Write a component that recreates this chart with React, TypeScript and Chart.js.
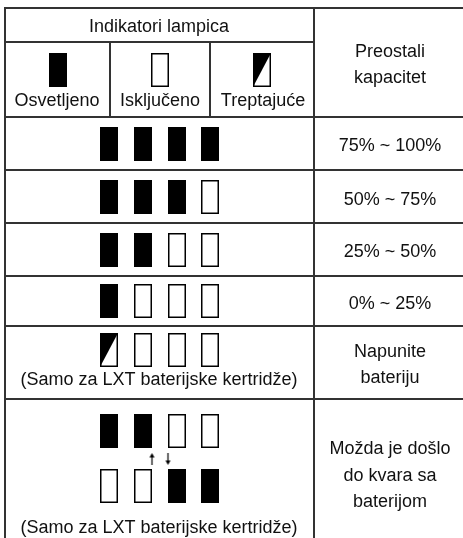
import React, { useEffect, useRef } from "react";
import { Chart, registerables } from "chart.js";

Chart.register(...registerables);

// ---------- content (data) ----------
const headerTitle = "Indikatori lampica";
const capacityTitle = ["Preostali", "kapacitet"];
const legendStates = ["on", "off", "blink"];
const legendLabels = ["Osvetljeno", "Isključeno", "Treptajuće"];
const capacityLabels = ["75% ~ 100%", "50% ~ 75%", "25% ~ 50%", "0% ~ 25%"];
const capacityLamps = [
  ["on", "on", "on", "on"],
  ["on", "on", "on", "off"],
  ["on", "on", "off", "off"],
  ["on", "off", "off", "off"],
];
const chargeLamps = ["blink", "off", "off", "off"];
const chargeNote = "(Samo za LXT baterijske kertridže)";
const chargeLabel = ["Napunite", "bateriju"];
const faultLampsA = ["on", "on", "off", "off"];
const faultLampsB = ["off", "off", "on", "on"];
const faultArrows = ["up", "down"];
const faultNote = "(Samo za LXT baterijske kertridže)";
const faultLabel = ["Možda je došlo", "do kvara sa", "baterijom"];

// ---------- layout ----------
const W = 463;
const H = 538;
const X_LEFT = 5;
const X_SPLIT = 314;
const X_RIGHT = 463;
const LEGEND_COLS = [5, 110, 210, 314];
const ROW_Y = [8, 42, 117, 170, 223, 276, 326, 399];
const LAMP_X = [109, 143, 177, 210];
const LEGEND_LAMP_X = [58, 160, 262];
const LEGEND_LAMP_Y = 70;
const CAP_LAMP_Y = [144, 197, 250, 301];
const CHARGE_LAMP_Y = 350;
const FAULT_LAMP_Y = [431, 486];
const ARROW_X = [152, 168];
const ARROW_Y = 459;
const LEFT_CX = 159;
const RIGHT_CX = 390;
const LEGEND_TEXT_X = [57, 160, 263];

const TEXT_FONT = "18px 'Liberation Sans', Arial, Helvetica, sans-serif";
const TEXT_COLOR = "#111";
const LINE_COLOR = "#333";

function makeLamp(state: string): HTMLCanvasElement {
  const c = document.createElement("canvas");
  c.width = 18;
  c.height = 34;
  const g = c.getContext("2d")!;
  const lw = 1.5;
  if (state === "on") {
    g.fillStyle = "#000";
    g.fillRect(0, 0, 18, 34);
    return c;
  }
  g.fillStyle = "#fff";
  g.fillRect(0, 0, 18, 34);
  if (state === "blink") {
    g.fillStyle = "#000";
    g.beginPath();
    g.moveTo(0, 0);
    g.lineTo(18, 0);
    g.lineTo(0, 34);
    g.closePath();
    g.fill();
  }
  g.strokeStyle = "#000";
  g.lineWidth = lw;
  g.strokeRect(lw / 2, lw / 2, 18 - lw, 34 - lw);
  return c;
}

function makeArrow(dir: string): HTMLCanvasElement {
  const c = document.createElement("canvas");
  c.width = 7;
  c.height = 12;
  const g = c.getContext("2d")!;
  g.fillStyle = "#000";
  g.strokeStyle = "#000";
  g.lineWidth = 1.2;
  g.save();
  if (dir === "down") {
    g.translate(0, 12);
    g.scale(1, -1);
  }
  g.beginPath();
  g.moveTo(3.5, 3);
  g.lineTo(3.5, 12);
  g.stroke();
  g.beginPath();
  g.moveTo(3.5, 0);
  g.lineTo(6, 4.5);
  g.lineTo(1, 4.5);
  g.closePath();
  g.fill();
  g.restore();
  return c;
}

type TextItem = { text: string; x: number; y: number };

function buildTexts(): TextItem[] {
  const t: TextItem[] = [];
  t.push({ text: headerTitle, x: LEFT_CX, y: 32 });
  t.push({ text: capacityTitle[0], x: RIGHT_CX, y: 57 });
  t.push({ text: capacityTitle[1], x: RIGHT_CX, y: 83 });
  legendLabels.forEach((l, i) => t.push({ text: l, x: LEGEND_TEXT_X[i], y: 106 }));
  const capBase = [151, 205, 257, 309];
  capacityLabels.forEach((l, i) => t.push({ text: l, x: RIGHT_CX, y: capBase[i] }));
  t.push({ text: chargeNote, x: LEFT_CX, y: 385 });
  t.push({ text: chargeLabel[0], x: RIGHT_CX, y: 357 });
  t.push({ text: chargeLabel[1], x: RIGHT_CX, y: 383 });
  t.push({ text: faultNote, x: LEFT_CX, y: 533 });
  const faultBase = [454, 481, 507];
  faultLabel.forEach((l, i) => t.push({ text: l, x: RIGHT_CX, y: faultBase[i] }));
  return t;
}

function buildLines(): { x: number; y: number }[][] {
  const segs: { x: number; y: number }[][] = [];
  // horizontal
  segs.push([{ x: X_LEFT - 1, y: ROW_Y[0] }, { x: X_RIGHT, y: ROW_Y[0] }]);
  segs.push([{ x: X_LEFT - 1, y: ROW_Y[1] }, { x: X_SPLIT, y: ROW_Y[1] }]);
  for (let i = 2; i < ROW_Y.length; i++) {
    segs.push([{ x: X_LEFT - 1, y: ROW_Y[i] }, { x: X_RIGHT, y: ROW_Y[i] }]);
  }
  // vertical
  segs.push([{ x: X_LEFT, y: ROW_Y[0] - 1 }, { x: X_LEFT, y: H }]);
  segs.push([{ x: X_SPLIT, y: ROW_Y[0] - 1 }, { x: X_SPLIT, y: H }]);
  segs.push([{ x: LEGEND_COLS[1], y: ROW_Y[1] }, { x: LEGEND_COLS[1], y: ROW_Y[2] }]);
  segs.push([{ x: LEGEND_COLS[2], y: ROW_Y[1] }, { x: LEGEND_COLS[2], y: ROW_Y[2] }]);
  return segs;
}

export default function App() {
  const ref = useRef<HTMLCanvasElement | null>(null);

  useEffect(() => {
    if (!ref.current) return;
    const lamps: Record<string, HTMLCanvasElement> = {
      on: makeLamp("on"),
      off: makeLamp("off"),
      blink: makeLamp("blink"),
    };
    const arrows: Record<string, HTMLCanvasElement> = {
      up: makeArrow("up"),
      down: makeArrow("down"),
    };

    const points: { x: number; y: number }[] = [];
    const styles: HTMLCanvasElement[] = [];
    legendStates.forEach((s, i) => {
      points.push({ x: LEGEND_LAMP_X[i], y: LEGEND_LAMP_Y });
      styles.push(lamps[s]);
    });
    capacityLamps.forEach((row, r) =>
      row.forEach((s, i) => {
        points.push({ x: LAMP_X[i], y: CAP_LAMP_Y[r] });
        styles.push(lamps[s]);
      })
    );
    chargeLamps.forEach((s, i) => {
      points.push({ x: LAMP_X[i], y: CHARGE_LAMP_Y });
      styles.push(lamps[s]);
    });
    faultLampsA.forEach((s, i) => {
      points.push({ x: LAMP_X[i], y: FAULT_LAMP_Y[0] });
      styles.push(lamps[s]);
    });
    faultLampsB.forEach((s, i) => {
      points.push({ x: LAMP_X[i], y: FAULT_LAMP_Y[1] });
      styles.push(lamps[s]);
    });
    faultArrows.forEach((a, i) => {
      points.push({ x: ARROW_X[i], y: ARROW_Y });
      styles.push(arrows[a]);
    });

    const lineSets = buildLines().map((seg) => ({
      data: seg,
      showLine: true,
      borderColor: LINE_COLOR,
      borderWidth: 2,
      pointRadius: 0,
      fill: false,
      tension: 0,
      clip: false,
    }));

    const texts = buildTexts();
    const textPlugin = {
      id: "tableText",
      afterDatasetsDraw(chart: any) {
        const ctx = chart.ctx as CanvasRenderingContext2D;
        const xs = chart.scales.x;
        const ys = chart.scales.y;
        ctx.save();
        ctx.fillStyle = TEXT_COLOR;
        ctx.font = TEXT_FONT;
        ctx.textAlign = "center";
        ctx.textBaseline = "alphabetic";
        texts.forEach((t) => {
          ctx.fillText(t.text, xs.getPixelForValue(t.x), ys.getPixelForValue(t.y));
        });
        ctx.restore();
      },
    };

    const chart = new Chart(ref.current, {
      type: "scatter",
      data: {
        datasets: [
          ...lineSets,
          {
            data: points,
            pointStyle: styles as any,
            pointRadius: 1,
            pointHoverRadius: 1,
            showLine: false,
            clip: false,
          },
        ] as any,
      },
      options: {
        animation: false,
        responsive: false,
        devicePixelRatio: 1,
        events: [],
        layout: { padding: 0, autoPadding: false },
        plugins: {
          legend: { display: false },
          tooltip: { enabled: false },
        },
        scales: {
          x: { type: "linear", min: 0, max: W, display: false },
          y: { type: "linear", min: 0, max: H, reverse: true, display: false },
        },
      },
      plugins: [textPlugin],
    });
    return () => chart.destroy();
  }, []);

  return (
    <div style={{ position: "fixed", left: 0, top: 0, width: W, height: H, background: "#fff" }}>
      <canvas ref={ref} width={W} height={H} style={{ width: W, height: H, display: "block" }} />
    </div>
  );
}
